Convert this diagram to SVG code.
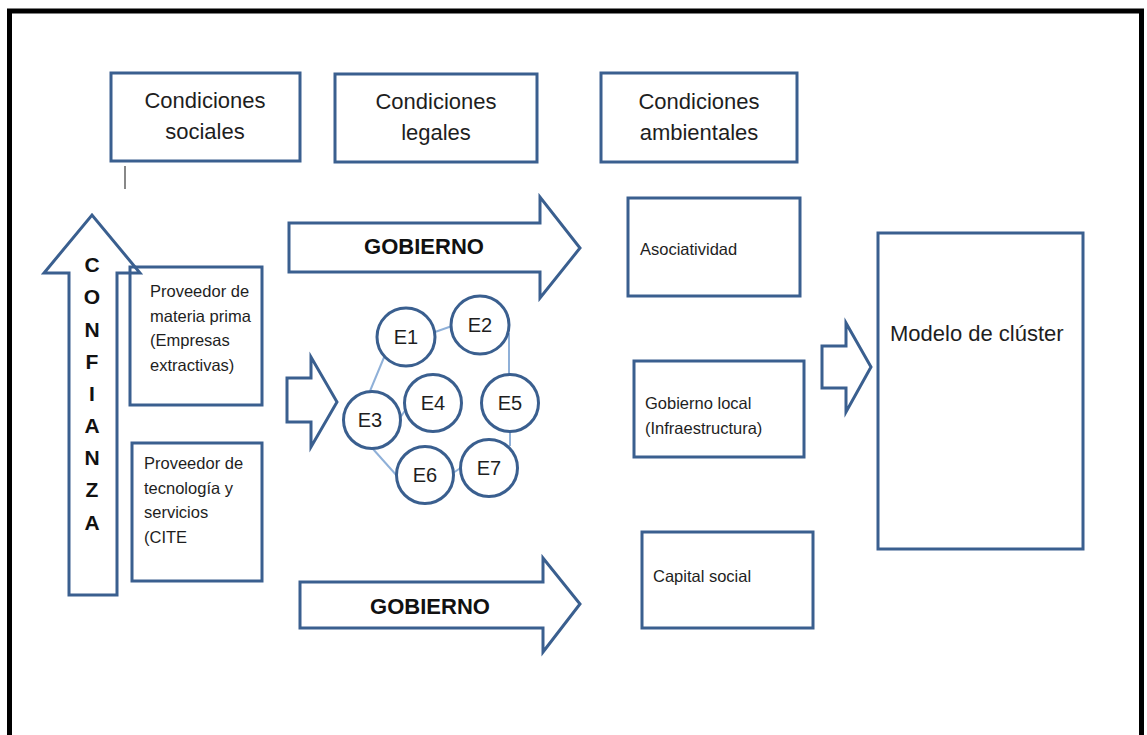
<svg xmlns="http://www.w3.org/2000/svg" width="1147" height="735" viewBox="0 0 1147 735">
<style>
.box{fill:#fff;stroke:#3a5f8f;stroke-width:3}
.shape{fill:#fff;stroke:#3a5f8f;stroke-width:3;stroke-linejoin:miter}
.link{stroke:#8fb0d8;stroke-width:2;fill:none}
.t{font-family:"Liberation Sans",Arial,sans-serif;fill:#1e1e1e}
.h{font-size:22px;text-anchor:middle}
.s{font-size:16.5px}
.b{font-family:"Liberation Sans",Arial,sans-serif;font-weight:bold;fill:#111}
.e{font-family:"Liberation Sans",Arial,sans-serif;font-size:20px;fill:#1e1e1e;text-anchor:middle}
</style>
<rect x="0" y="0" width="1147" height="735" fill="#fff"/>
<rect x="9.5" y="11" width="1132" height="800" fill="none" stroke="#000" stroke-width="5"/>

<g id="cond-sociales">
<rect class="box" x="111" y="73" width="189" height="88"/>
<text class="t h" x="205" y="108">Condiciones</text>
<text class="t h" x="205" y="139">sociales</text>
</g>
<g id="cond-legales">
<rect class="box" x="335" y="74" width="202" height="88"/>
<text class="t h" x="436" y="109">Condiciones</text>
<text class="t h" x="436" y="140">legales</text>
</g>
<g id="cond-ambientales">
<rect class="box" x="601" y="73" width="196" height="89"/>
<text class="t h" x="699" y="109">Condiciones</text>
<text class="t h" x="699" y="140">ambientales</text>
</g>

<g id="tick">
<line x1="125" y1="166" x2="125" y2="189" stroke="#888" stroke-width="2"/>
</g>

<g id="prov-materia">
<rect class="box" x="130" y="267" width="132" height="138"/>
<text class="t s" x="150" y="297">Proveedor de</text>
<text class="t s" x="150" y="322">materia prima</text>
<text class="t s" x="150" y="346">(Empresas</text>
<text class="t s" x="150" y="371">extractivas)</text>
</g>

<g id="confianza">
<path class="shape" fill="none" style="fill:none" d="M69,595 L69,273 L44,273 L92,215 L140,273 L117,273 L117,595 Z"/>
<g class="b" font-size="21" text-anchor="middle">
<text x="92" y="272">C</text>
<text x="92" y="304">O</text>
<text x="92" y="337">N</text>
<text x="92" y="369">F</text>
<text x="92" y="401">I</text>
<text x="92" y="433">A</text>
<text x="92" y="465">N</text>
<text x="92" y="497">Z</text>
<text x="92" y="530">A</text>
</g>
</g>

<g id="prov-tecnologia">
<rect class="box" x="132" y="443" width="130" height="138"/>
<text class="t s" x="144" y="469">Proveedor de</text>
<text class="t s" x="144" y="494">tecnología y</text>
<text class="t s" x="144" y="518">servicios</text>
<text class="t s" x="144" y="543">(CITE</text>
</g>

<g id="gobierno-top">
<path class="shape" d="M289,223 L540,223 L540,197 L580,248 L540,298 L540,272 L289,272 Z"/>
<text class="b" font-size="22" text-anchor="middle" x="424" y="254">GOBIERNO</text>
</g>
<g id="gobierno-bottom">
<path class="shape" d="M300,582 L543,582 L543,558 L580,604 L543,652 L543,628 L300,628 Z"/>
<text class="b" font-size="22" text-anchor="middle" x="430" y="614">GOBIERNO</text>
</g>

<g id="arrow-cluster">
<path class="shape" d="M287,378 L311,378 L311,357 L337,402 L311,447 L311,422 L287,422 Z"/>
</g>

<g id="connectors">
<line class="link" x1="435" y1="332" x2="452" y2="326"/>
<line class="link" x1="509" y1="333" x2="509" y2="377"/>
<line class="link" x1="385" y1="355" x2="370" y2="391"/>
<line class="link" x1="400" y1="418" x2="410" y2="403"/>
<line class="link" x1="373" y1="449" x2="398" y2="477"/>
<line class="link" x1="453" y1="473" x2="462" y2="467"/>
<line class="link" x1="510" y1="431" x2="510" y2="446"/>
</g>

<g id="E1"><circle class="box" cx="406" cy="337" r="29"/><text class="e" x="406" y="344">E1</text></g>
<g id="E2"><circle class="box" cx="480" cy="325" r="29"/><text class="e" x="480" y="332">E2</text></g>
<g id="E3"><circle class="box" cx="372" cy="420" r="28.5"/><text class="e" x="370" y="427">E3</text></g>
<g id="E4"><circle class="box" cx="433" cy="403" r="28.5"/><text class="e" x="433" y="410">E4</text></g>
<g id="E5"><circle class="box" cx="510" cy="403" r="28.5"/><text class="e" x="510" y="410">E5</text></g>
<g id="E6"><circle class="box" cx="425" cy="475" r="28.5"/><text class="e" x="425" y="482">E6</text></g>
<g id="E7"><circle class="box" cx="489" cy="468" r="28.5"/><text class="e" x="489" y="475">E7</text></g>

<g id="asociatividad">
<rect class="box" x="628" y="198" width="172" height="98"/>
<text class="t s" x="640" y="255">Asociatividad</text>
</g>
<g id="gobierno-local">
<rect class="box" x="634" y="361" width="170" height="96"/>
<text class="t s" x="645" y="409">Gobierno local</text>
<text class="t s" x="645" y="434">(Infraestructura)</text>
</g>
<g id="capital-social">
<rect class="box" x="642" y="532" width="171" height="96"/>
<text class="t s" x="653" y="582">Capital social</text>
</g>

<g id="arrow-modelo">
<path class="shape" d="M822,346 L846,346 L846,323 L871,367 L846,412 L846,388 L822,388 Z"/>
</g>

<g id="modelo">
<rect class="box" x="878" y="233" width="205" height="316"/>
<text class="t" font-size="22" x="890" y="341">Modelo de clúster</text>
</g>
</svg>
